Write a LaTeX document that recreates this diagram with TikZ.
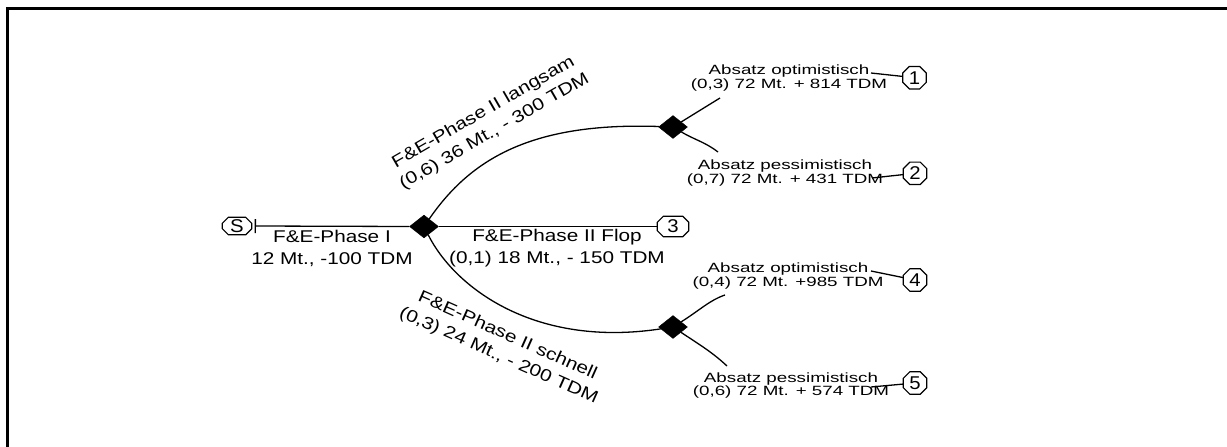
\documentclass[tikz,border=0pt]{standalone}
\usepackage{fontspec}
\setmainfont{Liberation Sans}
\newfontfamily\mainlabfont[FakeStretch=1.22]{Liberation Sans}
\newfontfamily\smalllabfont[FakeStretch=1.4]{Liberation Sans}
\newfontfamily\nodefont[FakeStretch=1.1]{Liberation Sans}
\usetikzlibrary{shapes.geometric,arrows.meta}
\begin{document}
\begin{tikzpicture}[x=1pt,y=-1pt,
 conn/.style={line width=1.3pt},
 octline/.style={line width=1.2pt,line join=miter},
 dec/.style={diamond,fill=black,draw=black,minimum width=29pt,minimum height=23pt,inner sep=0pt},
 endnode/.style={rectangle,inner sep=0pt,minimum width=23pt,minimum height=22pt,font=\nodefont\fontsize{18.5}{18.5}\selectfont},
 biglab/.style={align=center,inner sep=0pt,font=\mainlabfont\fontsize{17}{22}\selectfont},
 smalllab/.style={align=center,inner sep=0pt,font=\smalllabfont\fontsize{13.4}{13.6}\selectfont},
]
\useasboundingbox (0,0) rectangle (1227,447);
% frame
\draw[line width=3pt] (7.5,447) -- (7.5,8.5) -- (1227,8.5);

% nodes
\node[endnode,minimum width=29pt,minimum height=17pt] (S) at (237,226) {S};
\node[dec] (d1) at (424,226.5) {};
\node[endnode,minimum width=31pt,minimum height=20pt] (n3) at (673,226.5) {3};
\node[dec] (d2) at (673,127) {};
\node[dec] (d3) at (673,327) {};
\node[endnode] (n1) at (914.5,77.7) {1};
\node[endnode] (n2) at (915,173.3) {2};
\node[endnode] (n4) at (915,280) {4};
\node[endnode] (n5) at (915,383) {5};

% octagon outlines of the end nodes
\foreach \n/\c in {S/6,n3/6,n1/6.5,n2/6.5,n4/6.5,n5/6.5}
  \draw[octline] ([xshift=\c pt]\n.north west) -- ([xshift=-\c pt]\n.north east)
    -- ([yshift=-\c pt]\n.north east) -- ([yshift=\c pt]\n.south east)
    -- ([xshift=-\c pt]\n.south east) -- ([xshift=\c pt]\n.south west)
    -- ([yshift=\c pt]\n.south west) -- ([yshift=-\c pt]\n.north west) -- cycle;

% labels
\node[biglab] (L1) at (332,248) {F\&E-Phase I\\12 Mt., -100 TDM};
\node[biglab] (L3) at (557,248) {F\&E-Phase II Flop\\(0,1) 18 Mt., - 150 TDM};
\node[biglab,rotate=30] (L2) at (489,122) {F\&E-Phase II langsam\\(0,6) 36 Mt., - 300 TDM};
\node[biglab,rotate=-24] (L4) at (503,346) {F\&E-Phase II schnell\\(0,3) 24 Mt., - 200 TDM};

\node[smalllab] (A1) at (789,78.3) {Absatz optimistisch\\(0,3) 72 Mt. + 814 TDM};
\node[smalllab] (A2) at (785,173) {Absatz pessimistisch\\(0,7) 72 Mt. + 431 TDM};
\node[smalllab] (A4) at (788,276) {Absatz optimistisch\\(0,4) 72 Mt. +985 TDM};
\node[smalllab] (A5) at (791,385.6) {Absatz pessimistisch\\(0,6) 72 Mt. + 574 TDM};

% free ends
\coordinate (a1in) at (720,98);
\coordinate (a1out) at (871,73);
\coordinate (a2in) at (718,152);
\coordinate (a2out) at (872,178);
\coordinate (a4in) at (725,295);
\coordinate (a4out) at (871,271);
\coordinate (a5in) at (727,366);
\coordinate (a5out) at (871,387);

% connectors
\draw[conn,{Bar[width=14pt]}-] ([xshift=3pt]S.east) -- (d1.west);
\draw[conn] (d1.east) -- (n3.west);
\draw[conn] (d1) .. controls (470,160) and (530,122) .. (d2);
\draw[conn] (d1) .. controls (455,288) and (535,348) .. (d3);
\draw[conn] (d2) -- (a1in);
\draw[conn] (d2) .. controls (695,140) and (705,142) .. (a2in);
\draw[conn] (d3) .. controls (700,310) and (710,300) .. (a4in);
\draw[conn] (d3) .. controls (700,345) and (712,352) .. (a5in);
\draw[conn] (a1out) -- (n1);
\draw[conn] (a2out) -- (n2);
\draw[conn] (a4out) -- (n4);
\draw[conn] (a5out) -- (n5);
\end{tikzpicture}
\end{document}
